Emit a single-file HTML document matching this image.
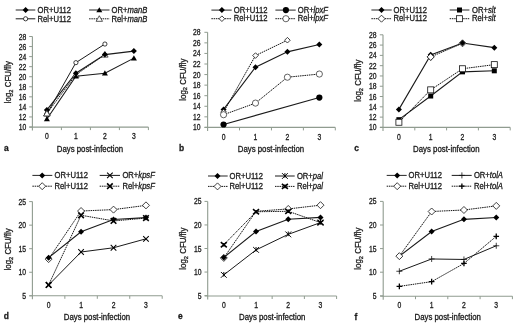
<!DOCTYPE html>
<html><head><meta charset="utf-8"><title>Figure</title>
<style>
html,body{margin:0;padding:0;background:#fff;width:520px;height:325px;overflow:hidden}
svg{display:block;will-change:transform}
text{font-family:"Liberation Sans", sans-serif;fill:#1a1a1a;stroke:#1a1a1a;stroke-width:0.3px}
text.t{stroke-width:0.3px}
</style></head>
<body>
<svg width="520" height="325" viewBox="0 0 520 325">
<rect width="520" height="325" fill="#fff"/>
<path d="M32.4 36.5V130.6M29.4 127.1H148.4" stroke="#909c90" stroke-width="1.1" fill="none"/>
<text transform="translate(26.2 130) scale(0.82 1)" font-size="8.3" text-anchor="end" font-weight="normal" class="t">10</text>
<text transform="translate(26.2 119.94) scale(0.82 1)" font-size="8.3" text-anchor="end" font-weight="normal" class="t">12</text>
<text transform="translate(26.2 109.89) scale(0.82 1)" font-size="8.3" text-anchor="end" font-weight="normal" class="t">14</text>
<text transform="translate(26.2 99.83) scale(0.82 1)" font-size="8.3" text-anchor="end" font-weight="normal" class="t">16</text>
<text transform="translate(26.2 89.78) scale(0.82 1)" font-size="8.3" text-anchor="end" font-weight="normal" class="t">18</text>
<text transform="translate(26.2 79.72) scale(0.82 1)" font-size="8.3" text-anchor="end" font-weight="normal" class="t">20</text>
<text transform="translate(26.2 69.67) scale(0.82 1)" font-size="8.3" text-anchor="end" font-weight="normal" class="t">22</text>
<text transform="translate(26.2 59.61) scale(0.82 1)" font-size="8.3" text-anchor="end" font-weight="normal" class="t">24</text>
<text transform="translate(26.2 49.56) scale(0.82 1)" font-size="8.3" text-anchor="end" font-weight="normal" class="t">26</text>
<text transform="translate(26.2 39.5) scale(0.82 1)" font-size="8.3" text-anchor="end" font-weight="normal" class="t">28</text>
<path d="M29.2 127H32.4M29.2 116.94H32.4M29.2 106.89H32.4M29.2 96.83H32.4M29.2 86.78H32.4M29.2 76.72H32.4M29.2 66.67H32.4M29.2 56.61H32.4M29.2 46.56H32.4M29.2 36.5H32.4M61.4 127.1V130.1M90.4 127.1V130.1M119.4 127.1V130.1M148.4 127.1V130.1" stroke="#909c90" stroke-width="1" fill="none"/>
<text transform="translate(46.9 139.3) scale(0.82 1)" font-size="8.3" text-anchor="middle" font-weight="normal" class="t">0</text>
<text transform="translate(75.9 139.3) scale(0.82 1)" font-size="8.3" text-anchor="middle" font-weight="normal" class="t">1</text>
<text transform="translate(104.9 139.3) scale(0.82 1)" font-size="8.3" text-anchor="middle" font-weight="normal" class="t">2</text>
<text transform="translate(133.9 139.3) scale(0.82 1)" font-size="8.3" text-anchor="middle" font-weight="normal" class="t">3</text>
<text transform="translate(90 152) scale(0.93 1)" font-size="8.4" text-anchor="middle" font-weight="normal" >Days post-infection</text>
<text transform="translate(10.7 82.1) rotate(-90) scale(0.94 1)" font-size="8.4" text-anchor="middle">log<tspan font-size="6" dy="1.8">2</tspan><tspan dy="-1.8"> CFU/fly</tspan></text>
<text transform="translate(4 151.2) scale(0.9 1)" font-size="9.4" text-anchor="start" font-weight="bold" >a</text>
<path d="M46.9 113.93L75.9 62.64L104.9 44.04" fill="none" stroke="#1a1a1a" stroke-width="1.0"/>
<path d="M46.9 113.43L75.9 74.71L104.9 54.6" fill="none" stroke="#151515" stroke-width="1.0" stroke-dasharray="1.5 0.75"/>
<path d="M46.9 118.96L75.9 76.22L104.9 73.2L133.9 58.12" fill="none" stroke="#1a1a1a" stroke-width="1.1"/>
<path d="M46.9 109.91L75.9 73.2L104.9 54.6L133.9 51.08" fill="none" stroke="#1a1a1a" stroke-width="1.1"/>
<circle cx="46.9" cy="113.93" r="2.1" fill="#fff" stroke="#111" stroke-width="0.8"/>
<circle cx="75.9" cy="62.64" r="2.1" fill="#fff" stroke="#111" stroke-width="0.8"/>
<circle cx="104.9" cy="44.04" r="2.1" fill="#fff" stroke="#111" stroke-width="0.8"/>
<path d="M46.9 110.35L50.1 115.95L43.7 115.95Z" fill="#fff" stroke="#111" stroke-width="0.7"/>
<path d="M75.9 71.63L79.1 77.23L72.7 77.23Z" fill="#fff" stroke="#111" stroke-width="0.7"/>
<path d="M104.9 51.52L108.1 57.12L101.7 57.12Z" fill="#fff" stroke="#111" stroke-width="0.7"/>
<path d="M46.9 116.1L49.9 121.3L43.9 121.3Z" fill="#000"/>
<path d="M75.9 73.36L78.9 78.56L72.9 78.56Z" fill="#000"/>
<path d="M104.9 70.34L107.9 75.54L101.9 75.54Z" fill="#000"/>
<path d="M133.9 55.26L136.9 60.46L130.9 60.46Z" fill="#000"/>
<path d="M46.9 106.91L49.9 109.91L46.9 112.91L43.9 109.91Z" fill="#000"/>
<path d="M75.9 70.2L78.9 73.2L75.9 76.2L72.9 73.2Z" fill="#000"/>
<path d="M104.9 51.6L107.9 54.6L104.9 57.6L101.9 54.6Z" fill="#000"/>
<path d="M133.9 48.08L136.9 51.08L133.9 54.08L130.9 51.08Z" fill="#000"/>
<path d="M46.9 110.35L50.1 115.95L43.7 115.95Z" fill="#fff" stroke="#111" stroke-width="0.7"/>
<path d="M15.7 10H35.3" fill="none" stroke="#1a1a1a" stroke-width="0.95"/>
<path d="M25.6 7L28.6 10L25.6 13L22.6 10Z" fill="#000"/>
<text transform="translate(37.5 12.7) scale(0.91 1)" font-size="8.4" text-anchor="start" font-weight="normal" >OR+U112</text>
<path d="M15.7 18.8H35.3" fill="none" stroke="#1a1a1a" stroke-width="1.0"/>
<circle cx="25.6" cy="18.8" r="2.1" fill="#fff" stroke="#111" stroke-width="0.8"/>
<text transform="translate(37.5 21.5) scale(0.91 1)" font-size="8.4" text-anchor="start" font-weight="normal" >Rel+U112</text>
<path d="M89.1 10H109.5" fill="none" stroke="#1a1a1a" stroke-width="0.95"/>
<path d="M99.3 7.14L102.3 12.34L96.3 12.34Z" fill="#000"/>
<text transform="translate(111.6 12.7) scale(0.91 1)" font-size="8.4" text-anchor="start" font-weight="normal" >OR+<tspan font-style="italic">manB</tspan></text>
<path d="M89.1 18.8H109.5" fill="none" stroke="#151515" stroke-width="1.0" stroke-dasharray="1.5 0.75"/>
<path d="M99.3 15.72L102.5 21.32L96.1 21.32Z" fill="#fff" stroke="#111" stroke-width="0.7"/>
<text transform="translate(111.6 21.5) scale(0.91 1)" font-size="8.4" text-anchor="start" font-weight="normal" >Rel+<tspan font-style="italic">manB</tspan></text>
<path d="M207.6 32.3V130.9M204.6 127.4H335.3" stroke="#909c90" stroke-width="1.1" fill="none"/>
<text transform="translate(200.6 130.4) scale(0.82 1)" font-size="8.3" text-anchor="end" font-weight="normal" class="t">10</text>
<text transform="translate(200.6 119.83) scale(0.82 1)" font-size="8.3" text-anchor="end" font-weight="normal" class="t">12</text>
<text transform="translate(200.6 109.27) scale(0.82 1)" font-size="8.3" text-anchor="end" font-weight="normal" class="t">14</text>
<text transform="translate(200.6 98.7) scale(0.82 1)" font-size="8.3" text-anchor="end" font-weight="normal" class="t">16</text>
<text transform="translate(200.6 88.13) scale(0.82 1)" font-size="8.3" text-anchor="end" font-weight="normal" class="t">18</text>
<text transform="translate(200.6 77.57) scale(0.82 1)" font-size="8.3" text-anchor="end" font-weight="normal" class="t">20</text>
<text transform="translate(200.6 67) scale(0.82 1)" font-size="8.3" text-anchor="end" font-weight="normal" class="t">22</text>
<text transform="translate(200.6 56.43) scale(0.82 1)" font-size="8.3" text-anchor="end" font-weight="normal" class="t">24</text>
<text transform="translate(200.6 45.87) scale(0.82 1)" font-size="8.3" text-anchor="end" font-weight="normal" class="t">26</text>
<text transform="translate(200.6 35.3) scale(0.82 1)" font-size="8.3" text-anchor="end" font-weight="normal" class="t">28</text>
<path d="M204.4 127.4H207.6M204.4 116.83H207.6M204.4 106.27H207.6M204.4 95.7H207.6M204.4 85.13H207.6M204.4 74.57H207.6M204.4 64H207.6M204.4 53.43H207.6M204.4 42.87H207.6M204.4 32.3H207.6M239.53 127.4V130.4M271.45 127.4V130.4M303.38 127.4V130.4M335.3 127.4V130.4" stroke="#909c90" stroke-width="1" fill="none"/>
<text transform="translate(223.56 139.6) scale(0.82 1)" font-size="8.3" text-anchor="middle" font-weight="normal" class="t">0</text>
<text transform="translate(255.49 139.6) scale(0.82 1)" font-size="8.3" text-anchor="middle" font-weight="normal" class="t">1</text>
<text transform="translate(287.41 139.6) scale(0.82 1)" font-size="8.3" text-anchor="middle" font-weight="normal" class="t">2</text>
<text transform="translate(319.34 139.6) scale(0.82 1)" font-size="8.3" text-anchor="middle" font-weight="normal" class="t">3</text>
<text transform="translate(271 152) scale(0.93 1)" font-size="8.4" text-anchor="middle" font-weight="normal" >Days post-infection</text>
<text transform="translate(185.6 79.6) rotate(-90) scale(0.94 1)" font-size="8.4" text-anchor="middle">log<tspan font-size="6" dy="1.8">2</tspan><tspan dy="-1.8"> CFU/fly</tspan></text>
<text transform="translate(179 151) scale(0.9 1)" font-size="9.4" text-anchor="start" font-weight="bold" >b</text>
<path d="M223.56 109.44L255.49 67.17L287.41 51.85L319.34 44.45" fill="none" stroke="#1a1a1a" stroke-width="1.1"/>
<path d="M223.56 112.08L255.49 55.55L287.41 40.22" fill="none" stroke="#151515" stroke-width="1.0" stroke-dasharray="1.5 0.75"/>
<path d="M223.56 124.49L319.34 97.55" fill="none" stroke="#1a1a1a" stroke-width="1.1"/>
<path d="M223.56 114.72L255.49 103.1L287.41 77.21L319.34 74.04" fill="none" stroke="#151515" stroke-width="1.0" stroke-dasharray="1.5 0.75"/>
<path d="M223.56 106.44L226.56 109.44L223.56 112.44L220.56 109.44Z" fill="#000"/>
<path d="M255.49 64.17L258.49 67.17L255.49 70.17L252.49 67.17Z" fill="#000"/>
<path d="M287.41 48.85L290.41 51.85L287.41 54.85L284.41 51.85Z" fill="#000"/>
<path d="M319.34 41.45L322.34 44.45L319.34 47.45L316.34 44.45Z" fill="#000"/>
<path d="M223.56 109.28L226.36 112.08L223.56 114.88L220.76 112.08Z" fill="#fff" stroke="#111" stroke-width="0.8"/>
<path d="M255.49 52.75L258.29 55.55L255.49 58.35L252.69 55.55Z" fill="#fff" stroke="#111" stroke-width="0.8"/>
<path d="M287.41 37.42L290.21 40.22L287.41 43.02L284.61 40.22Z" fill="#fff" stroke="#111" stroke-width="0.8"/>
<circle cx="223.56" cy="124.49" r="3.1" fill="#000"/>
<circle cx="319.34" cy="97.55" r="3.1" fill="#000"/>
<circle cx="223.56" cy="114.72" r="3.1" fill="#fff" stroke="#222" stroke-width="0.7"/>
<circle cx="255.49" cy="103.1" r="3.1" fill="#fff" stroke="#222" stroke-width="0.7"/>
<circle cx="287.41" cy="77.21" r="3.1" fill="#fff" stroke="#222" stroke-width="0.7"/>
<circle cx="319.34" cy="74.04" r="3.1" fill="#fff" stroke="#222" stroke-width="0.7"/>
<path d="M211.4 10.1H231.7" fill="none" stroke="#1a1a1a" stroke-width="0.95"/>
<path d="M221.9 7.1L224.9 10.1L221.9 13.1L218.9 10.1Z" fill="#000"/>
<text transform="translate(233.8 12.8) scale(0.91 1)" font-size="8.4" text-anchor="start" font-weight="normal" >OR+U112</text>
<path d="M211.4 18.7H231.7" fill="none" stroke="#151515" stroke-width="1.0" stroke-dasharray="1.5 0.75"/>
<path d="M221.9 15.9L224.7 18.7L221.9 21.5L219.1 18.7Z" fill="#fff" stroke="#111" stroke-width="0.8"/>
<text transform="translate(233.8 21.4) scale(0.91 1)" font-size="8.4" text-anchor="start" font-weight="normal" >Rel+U112</text>
<path d="M275.4 10.1H295.7" fill="none" stroke="#1a1a1a" stroke-width="0.95"/>
<circle cx="285.9" cy="10.1" r="3.1" fill="#000"/>
<text transform="translate(297.7 12.8) scale(0.91 1)" font-size="8.4" text-anchor="start" font-weight="normal" >OR+<tspan font-style="italic">lpxF</tspan></text>
<path d="M275.4 18.7H295.7" fill="none" stroke="#151515" stroke-width="1.0" stroke-dasharray="1.5 0.75"/>
<circle cx="285.9" cy="18.7" r="3.1" fill="#fff" stroke="#222" stroke-width="0.7"/>
<text transform="translate(297.7 21.4) scale(0.91 1)" font-size="8.4" text-anchor="start" font-weight="normal" >Rel+<tspan font-style="italic">lpxF</tspan></text>
<path d="M383 34.8V130.9M380 127.4H510.2" stroke="#909c90" stroke-width="1.1" fill="none"/>
<text transform="translate(376.6 130.4) scale(0.82 1)" font-size="8.3" text-anchor="end" font-weight="normal" class="t">10</text>
<text transform="translate(376.6 120.11) scale(0.82 1)" font-size="8.3" text-anchor="end" font-weight="normal" class="t">12</text>
<text transform="translate(376.6 109.82) scale(0.82 1)" font-size="8.3" text-anchor="end" font-weight="normal" class="t">14</text>
<text transform="translate(376.6 99.53) scale(0.82 1)" font-size="8.3" text-anchor="end" font-weight="normal" class="t">16</text>
<text transform="translate(376.6 89.24) scale(0.82 1)" font-size="8.3" text-anchor="end" font-weight="normal" class="t">18</text>
<text transform="translate(376.6 78.96) scale(0.82 1)" font-size="8.3" text-anchor="end" font-weight="normal" class="t">20</text>
<text transform="translate(376.6 68.67) scale(0.82 1)" font-size="8.3" text-anchor="end" font-weight="normal" class="t">22</text>
<text transform="translate(376.6 58.38) scale(0.82 1)" font-size="8.3" text-anchor="end" font-weight="normal" class="t">24</text>
<text transform="translate(376.6 48.09) scale(0.82 1)" font-size="8.3" text-anchor="end" font-weight="normal" class="t">26</text>
<text transform="translate(376.6 37.8) scale(0.82 1)" font-size="8.3" text-anchor="end" font-weight="normal" class="t">28</text>
<path d="M379.8 127.4H383M379.8 117.11H383M379.8 106.82H383M379.8 96.53H383M379.8 86.24H383M379.8 75.96H383M379.8 65.67H383M379.8 55.38H383M379.8 45.09H383M379.8 34.8H383M414.8 127.4V130.4M446.6 127.4V130.4M478.4 127.4V130.4M510.2 127.4V130.4" stroke="#909c90" stroke-width="1" fill="none"/>
<text transform="translate(398.9 139.6) scale(0.82 1)" font-size="8.3" text-anchor="middle" font-weight="normal" class="t">0</text>
<text transform="translate(430.7 139.6) scale(0.82 1)" font-size="8.3" text-anchor="middle" font-weight="normal" class="t">1</text>
<text transform="translate(462.5 139.6) scale(0.82 1)" font-size="8.3" text-anchor="middle" font-weight="normal" class="t">2</text>
<text transform="translate(494.3 139.6) scale(0.82 1)" font-size="8.3" text-anchor="middle" font-weight="normal" class="t">3</text>
<text transform="translate(446.3 152) scale(0.93 1)" font-size="8.4" text-anchor="middle" font-weight="normal" >Days post-infection</text>
<text transform="translate(361.1 80.6) rotate(-90) scale(0.94 1)" font-size="8.4" text-anchor="middle">log<tspan font-size="6" dy="1.8">2</tspan><tspan dy="-1.8"> CFU/fly</tspan></text>
<text transform="translate(354.2 151.2) scale(0.9 1)" font-size="9.4" text-anchor="start" font-weight="bold" >c</text>
<path d="M430.7 56.92L462.5 43.29" fill="none" stroke="#151515" stroke-width="1.0" stroke-dasharray="1.5 0.75"/>
<path d="M398.9 109.39L430.7 54.86L462.5 43.03L494.3 47.66" fill="none" stroke="#1a1a1a" stroke-width="1.1"/>
<path d="M398.9 119.68L430.7 96.02L462.5 71.84L494.3 70.81" fill="none" stroke="#1a1a1a" stroke-width="1.1"/>
<path d="M398.9 122.26L430.7 89.85L462.5 68.75L494.3 64.64" fill="none" stroke="#151515" stroke-width="1.0" stroke-dasharray="1.5 0.75"/>
<path d="M430.7 53.42L434.2 56.92L430.7 60.42L427.2 56.92Z" fill="#fff" stroke="#111" stroke-width="0.8"/>
<path d="M462.5 39.79L466 43.29L462.5 46.79L459 43.29Z" fill="#fff" stroke="#111" stroke-width="0.8"/>
<path d="M398.9 106.39L401.9 109.39L398.9 112.39L395.9 109.39Z" fill="#000"/>
<path d="M430.7 51.86L433.7 54.86L430.7 57.86L427.7 54.86Z" fill="#000"/>
<path d="M462.5 40.03L465.5 43.03L462.5 46.03L459.5 43.03Z" fill="#000"/>
<path d="M494.3 44.66L497.3 47.66L494.3 50.66L491.3 47.66Z" fill="#000"/>
<rect x="396.4" y="117.18" width="5" height="5" fill="#000"/>
<rect x="428.2" y="93.52" width="5" height="5" fill="#000"/>
<rect x="460" y="69.34" width="5" height="5" fill="#000"/>
<rect x="491.8" y="68.31" width="5" height="5" fill="#000"/>
<rect x="395.9" y="119.26" width="6" height="6" fill="#fff" stroke="#111" stroke-width="0.8"/>
<rect x="427.7" y="86.85" width="6" height="6" fill="#fff" stroke="#111" stroke-width="0.8"/>
<rect x="459.5" y="65.75" width="6" height="6" fill="#fff" stroke="#111" stroke-width="0.8"/>
<rect x="491.3" y="61.64" width="6" height="6" fill="#fff" stroke="#111" stroke-width="0.8"/>
<path d="M430.7 53.42L434.2 56.92L430.7 60.42L427.2 56.92Z" fill="#fff" stroke="#111" stroke-width="0.8"/>
<path d="M371.4 10H391.7" fill="none" stroke="#1a1a1a" stroke-width="0.95"/>
<path d="M381.5 7L384.5 10L381.5 13L378.5 10Z" fill="#000"/>
<text transform="translate(393.5 12.7) scale(0.91 1)" font-size="8.4" text-anchor="start" font-weight="normal" >OR+U112</text>
<path d="M371.4 18.7H391.7" fill="none" stroke="#151515" stroke-width="1.0" stroke-dasharray="1.5 0.75"/>
<path d="M381.5 15.2L385 18.7L381.5 22.2L378 18.7Z" fill="#fff" stroke="#111" stroke-width="0.8"/>
<text transform="translate(393.5 21.4) scale(0.91 1)" font-size="8.4" text-anchor="start" font-weight="normal" >Rel+U112</text>
<path d="M449.7 10H469.4" fill="none" stroke="#1a1a1a" stroke-width="0.95"/>
<rect x="457" y="7.5" width="5" height="5" fill="#000"/>
<text transform="translate(472 12.7) scale(0.91 1)" font-size="8.4" text-anchor="start" font-weight="normal" >OR+<tspan font-style="italic">slt</tspan></text>
<path d="M449.7 18.7H469.4" fill="none" stroke="#151515" stroke-width="1.0" stroke-dasharray="1.5 0.75"/>
<rect x="456.5" y="15.7" width="6" height="6" fill="#fff" stroke="#111" stroke-width="0.8"/>
<text transform="translate(472 21.4) scale(0.91 1)" font-size="8.4" text-anchor="start" font-weight="normal" >Rel+<tspan font-style="italic">slt</tspan></text>
<path d="M32.4 201.6V299.3M29.4 295.8H162.2" stroke="#909c90" stroke-width="1.1" fill="none"/>
<text transform="translate(26 298.8) scale(0.82 1)" font-size="8.3" text-anchor="end" font-weight="normal" class="t">5</text>
<text transform="translate(26 275.25) scale(0.82 1)" font-size="8.3" text-anchor="end" font-weight="normal" class="t">10</text>
<text transform="translate(26 251.7) scale(0.82 1)" font-size="8.3" text-anchor="end" font-weight="normal" class="t">15</text>
<text transform="translate(26 228.15) scale(0.82 1)" font-size="8.3" text-anchor="end" font-weight="normal" class="t">20</text>
<text transform="translate(26 204.6) scale(0.82 1)" font-size="8.3" text-anchor="end" font-weight="normal" class="t">25</text>
<path d="M29.2 295.8H32.4M29.2 272.25H32.4M29.2 248.7H32.4M29.2 225.15H32.4M29.2 201.6H32.4M64.85 295.8V298.8M97.3 295.8V298.8M129.75 295.8V298.8M162.2 295.8V298.8" stroke="#909c90" stroke-width="1" fill="none"/>
<text transform="translate(48.62 308) scale(0.82 1)" font-size="8.3" text-anchor="middle" font-weight="normal" class="t">0</text>
<text transform="translate(81.07 308) scale(0.82 1)" font-size="8.3" text-anchor="middle" font-weight="normal" class="t">1</text>
<text transform="translate(113.52 308) scale(0.82 1)" font-size="8.3" text-anchor="middle" font-weight="normal" class="t">2</text>
<text transform="translate(145.97 308) scale(0.82 1)" font-size="8.3" text-anchor="middle" font-weight="normal" class="t">3</text>
<text transform="translate(97 320.2) scale(0.93 1)" font-size="8.4" text-anchor="middle" font-weight="normal" >Days post-infection</text>
<text transform="translate(10.7 249.4) rotate(-90) scale(0.94 1)" font-size="8.4" text-anchor="middle">log<tspan font-size="6" dy="1.8">2</tspan><tspan dy="-1.8"> CFU/fly</tspan></text>
<text transform="translate(3.8 319.3) scale(0.9 1)" font-size="9.4" text-anchor="start" font-weight="bold" >d</text>
<path d="M48.62 259.06L81.07 211.02L113.52 209.61L145.97 205.37" fill="none" stroke="#151515" stroke-width="1.0" stroke-dasharray="1.5 0.75"/>
<path d="M48.62 257.65L81.07 231.74L113.52 219.5L145.97 217.61" fill="none" stroke="#1a1a1a" stroke-width="1.1"/>
<path d="M48.62 284.97L81.07 252L113.52 247.76L145.97 238.81" fill="none" stroke="#1a1a1a" stroke-width="1.0"/>
<path d="M48.62 284.97L81.07 215.26L113.52 220.91L145.97 218.09" fill="none" stroke="#151515" stroke-width="1.0" stroke-dasharray="1.5 0.75"/>
<path d="M48.62 255.56L52.12 259.06L48.62 262.56L45.12 259.06Z" fill="#fff" stroke="#111" stroke-width="0.8"/>
<path d="M81.07 207.52L84.57 211.02L81.07 214.52L77.57 211.02Z" fill="#fff" stroke="#111" stroke-width="0.8"/>
<path d="M113.52 206.11L117.02 209.61L113.52 213.11L110.02 209.61Z" fill="#fff" stroke="#111" stroke-width="0.8"/>
<path d="M145.97 201.87L149.47 205.37L145.97 208.87L142.47 205.37Z" fill="#fff" stroke="#111" stroke-width="0.8"/>
<path d="M48.62 254.65L51.62 257.65L48.62 260.65L45.62 257.65Z" fill="#000"/>
<path d="M81.07 228.74L84.07 231.74L81.07 234.74L78.07 231.74Z" fill="#000"/>
<path d="M113.52 216.5L116.52 219.5L113.52 222.5L110.52 219.5Z" fill="#000"/>
<path d="M145.97 214.61L148.97 217.61L145.97 220.61L142.97 217.61Z" fill="#000"/>
<path d="M45.83 282.17L51.42 287.77M51.42 282.17L45.83 287.77" stroke="#000" stroke-width="1.05" fill="none"/>
<path d="M78.27 249.2L83.87 254.8M83.87 249.2L78.27 254.8" stroke="#000" stroke-width="1.05" fill="none"/>
<path d="M110.72 244.96L116.32 250.56M116.32 244.96L110.72 250.56" stroke="#000" stroke-width="1.05" fill="none"/>
<path d="M143.17 236.01L148.78 241.61M148.78 236.01L143.17 241.61" stroke="#000" stroke-width="1.05" fill="none"/>
<path d="M45.83 282.17L51.42 287.77M51.42 282.17L45.83 287.77" stroke="#000" stroke-width="1.6" fill="none"/>
<path d="M78.27 212.46L83.87 218.06M83.87 212.46L78.27 218.06" stroke="#000" stroke-width="1.6" fill="none"/>
<path d="M110.72 218.11L116.32 223.71M116.32 218.11L110.72 223.71" stroke="#000" stroke-width="1.6" fill="none"/>
<path d="M143.17 215.28L148.78 220.89M148.78 215.28L143.17 220.89" stroke="#000" stroke-width="1.6" fill="none"/>
<path d="M32.4 175.4H52.3" fill="none" stroke="#1a1a1a" stroke-width="0.95"/>
<path d="M42.2 172.4L45.2 175.4L42.2 178.4L39.2 175.4Z" fill="#000"/>
<text transform="translate(54.5 178.1) scale(0.91 1)" font-size="8.4" text-anchor="start" font-weight="normal" >OR+U112</text>
<path d="M32.4 186.2H52.3" fill="none" stroke="#151515" stroke-width="1.0" stroke-dasharray="1.5 0.75"/>
<path d="M42.2 182.7L45.7 186.2L42.2 189.7L38.7 186.2Z" fill="#fff" stroke="#111" stroke-width="0.8"/>
<text transform="translate(54.5 188.9) scale(0.91 1)" font-size="8.4" text-anchor="start" font-weight="normal" >Rel+U112</text>
<path d="M99.7 175.4H120" fill="none" stroke="#1a1a1a" stroke-width="1.0"/>
<path d="M107.1 172.6L112.7 178.2M112.7 172.6L107.1 178.2" stroke="#000" stroke-width="1.05" fill="none"/>
<text transform="translate(122.4 178.1) scale(0.91 1)" font-size="8.4" text-anchor="start" font-weight="normal" >OR+<tspan font-style="italic">kpsF</tspan></text>
<path d="M99.7 186.2H120" fill="none" stroke="#151515" stroke-width="1.0" stroke-dasharray="1.5 0.75"/>
<path d="M107.1 183.4L112.7 189M112.7 183.4L107.1 189" stroke="#000" stroke-width="1.6" fill="none"/>
<text transform="translate(122.4 188.9) scale(0.91 1)" font-size="8.4" text-anchor="start" font-weight="normal" >Rel+<tspan font-style="italic">kpsF</tspan></text>
<path d="M207.7 201.4V299.5M204.7 296H336.6" stroke="#909c90" stroke-width="1.1" fill="none"/>
<text transform="translate(201.6 298.6) scale(0.82 1)" font-size="8.3" text-anchor="end" font-weight="normal" class="t">5</text>
<text transform="translate(201.6 275.05) scale(0.82 1)" font-size="8.3" text-anchor="end" font-weight="normal" class="t">10</text>
<text transform="translate(201.6 251.5) scale(0.82 1)" font-size="8.3" text-anchor="end" font-weight="normal" class="t">15</text>
<text transform="translate(201.6 227.95) scale(0.82 1)" font-size="8.3" text-anchor="end" font-weight="normal" class="t">20</text>
<text transform="translate(201.6 204.4) scale(0.82 1)" font-size="8.3" text-anchor="end" font-weight="normal" class="t">25</text>
<path d="M204.5 295.6H207.7M204.5 272.05H207.7M204.5 248.5H207.7M204.5 224.95H207.7M204.5 201.4H207.7M239.93 296V299M272.15 296V299M304.38 296V299M336.6 296V299" stroke="#909c90" stroke-width="1" fill="none"/>
<text transform="translate(223.81 307.6) scale(0.82 1)" font-size="8.3" text-anchor="middle" font-weight="normal" class="t">0</text>
<text transform="translate(256.04 307.6) scale(0.82 1)" font-size="8.3" text-anchor="middle" font-weight="normal" class="t">1</text>
<text transform="translate(288.26 307.6) scale(0.82 1)" font-size="8.3" text-anchor="middle" font-weight="normal" class="t">2</text>
<text transform="translate(320.49 307.6) scale(0.82 1)" font-size="8.3" text-anchor="middle" font-weight="normal" class="t">3</text>
<text transform="translate(272.2 319.8) scale(0.93 1)" font-size="8.4" text-anchor="middle" font-weight="normal" >Days post-infection</text>
<text transform="translate(185.7 248.6) rotate(-90) scale(0.94 1)" font-size="8.4" text-anchor="middle">log<tspan font-size="6" dy="1.8">2</tspan><tspan dy="-1.8"> CFU/fly</tspan></text>
<text transform="translate(178 319.3) scale(0.9 1)" font-size="9.4" text-anchor="start" font-weight="bold" >e</text>
<path d="M223.81 257.92L256.04 211.29L288.26 208.94L320.49 205.17" fill="none" stroke="#151515" stroke-width="1.0" stroke-dasharray="1.5 0.75"/>
<path d="M223.81 257.45L256.04 231.54L288.26 219.3L320.49 217.41" fill="none" stroke="#1a1a1a" stroke-width="1.1"/>
<path d="M223.81 274.88L256.04 249.91L288.26 234.37L320.49 222.59" fill="none" stroke="#1a1a1a" stroke-width="1.0"/>
<path d="M223.81 244.73L256.04 211.76L288.26 211.29L320.49 222.59" fill="none" stroke="#151515" stroke-width="1.0" stroke-dasharray="1.5 0.75"/>
<path d="M223.81 254.42L227.31 257.92L223.81 261.42L220.31 257.92Z" fill="#fff" stroke="#111" stroke-width="0.8"/>
<path d="M288.26 205.44L291.76 208.94L288.26 212.44L284.76 208.94Z" fill="#fff" stroke="#111" stroke-width="0.8"/>
<path d="M320.49 201.67L323.99 205.17L320.49 208.67L316.99 205.17Z" fill="#fff" stroke="#111" stroke-width="0.8"/>
<path d="M223.81 254.45L226.81 257.45L223.81 260.45L220.81 257.45Z" fill="#000"/>
<path d="M256.04 228.54L259.04 231.54L256.04 234.54L253.04 231.54Z" fill="#000"/>
<path d="M288.26 216.3L291.26 219.3L288.26 222.3L285.26 219.3Z" fill="#000"/>
<path d="M320.49 214.41L323.49 217.41L320.49 220.41L317.49 217.41Z" fill="#000"/>
<path d="M220.91 271.98L226.71 277.78M226.71 271.98L220.91 277.78M223.81 271.98L223.81 276.62" stroke="#000" stroke-width="0.95" fill="none"/>
<path d="M253.14 247.01L258.94 252.81M258.94 247.01L253.14 252.81M256.04 247.01L256.04 251.65" stroke="#000" stroke-width="0.95" fill="none"/>
<path d="M285.36 231.47L291.16 237.27M291.16 231.47L285.36 237.27M288.26 231.47L288.26 236.11" stroke="#000" stroke-width="0.95" fill="none"/>
<path d="M317.59 219.69L323.39 225.5M323.39 219.69L317.59 225.5M320.49 219.69L320.49 224.34" stroke="#000" stroke-width="0.95" fill="none"/>
<path d="M220.81 242.18L226.81 247.28M226.81 242.18L220.81 247.28" stroke="#000" stroke-width="1.6" fill="none"/><path d="M223.81 242.93V246.53" stroke="#000" stroke-width="1.4"/>
<path d="M253.04 209.21L259.04 214.31M259.04 209.21L253.04 214.31" stroke="#000" stroke-width="1.6" fill="none"/><path d="M256.04 209.96V213.56" stroke="#000" stroke-width="1.4"/>
<path d="M285.26 208.74L291.26 213.84M291.26 208.74L285.26 213.84" stroke="#000" stroke-width="1.6" fill="none"/><path d="M288.26 209.49V213.09" stroke="#000" stroke-width="1.4"/>
<path d="M317.49 220.04L323.49 225.15M323.49 220.04L317.49 225.15" stroke="#000" stroke-width="1.6" fill="none"/><path d="M320.49 220.79V224.4" stroke="#000" stroke-width="1.4"/>
<path d="M208 176H227.7" fill="none" stroke="#1a1a1a" stroke-width="0.95"/>
<path d="M217.5 173L220.5 176L217.5 179L214.5 176Z" fill="#000"/>
<text transform="translate(229.5 178.7) scale(0.91 1)" font-size="8.4" text-anchor="start" font-weight="normal" >OR+U112</text>
<path d="M208 186.4H227.7" fill="none" stroke="#151515" stroke-width="1.0" stroke-dasharray="1.5 0.75"/>
<path d="M217.5 182.9L221 186.4L217.5 189.9L214 186.4Z" fill="#fff" stroke="#111" stroke-width="0.8"/>
<text transform="translate(229.5 189.1) scale(0.91 1)" font-size="8.4" text-anchor="start" font-weight="normal" >Rel+U112</text>
<path d="M275 176H294.7" fill="none" stroke="#1a1a1a" stroke-width="1.0"/>
<path d="M282 173.1L287.8 178.9M287.8 173.1L282 178.9M284.9 173.1L284.9 177.74" stroke="#000" stroke-width="0.95" fill="none"/>
<text transform="translate(296.9 178.7) scale(0.91 1)" font-size="8.4" text-anchor="start" font-weight="normal" >OR+<tspan font-style="italic">pal</tspan></text>
<path d="M275 186.4H294.7" fill="none" stroke="#151515" stroke-width="1.0" stroke-dasharray="1.5 0.75"/>
<path d="M281.9 183.85L287.9 188.95M287.9 183.85L281.9 188.95" stroke="#000" stroke-width="1.6" fill="none"/><path d="M284.9 184.6V188.2" stroke="#000" stroke-width="1.4"/>
<text transform="translate(296.9 189.1) scale(0.91 1)" font-size="8.4" text-anchor="start" font-weight="normal" >Rel+<tspan font-style="italic">pal</tspan></text>
<path d="M383.2 201.4V299.7M380.2 296.2H512.4" stroke="#909c90" stroke-width="1.1" fill="none"/>
<text transform="translate(376.6 298.8) scale(0.82 1)" font-size="8.3" text-anchor="end" font-weight="normal" class="t">5</text>
<text transform="translate(376.6 275.2) scale(0.82 1)" font-size="8.3" text-anchor="end" font-weight="normal" class="t">10</text>
<text transform="translate(376.6 251.6) scale(0.82 1)" font-size="8.3" text-anchor="end" font-weight="normal" class="t">15</text>
<text transform="translate(376.6 228) scale(0.82 1)" font-size="8.3" text-anchor="end" font-weight="normal" class="t">20</text>
<text transform="translate(376.6 204.4) scale(0.82 1)" font-size="8.3" text-anchor="end" font-weight="normal" class="t">25</text>
<path d="M380 295.8H383.2M380 272.2H383.2M380 248.6H383.2M380 225H383.2M380 201.4H383.2M415.5 296.2V299.2M447.8 296.2V299.2M480.1 296.2V299.2M512.4 296.2V299.2" stroke="#909c90" stroke-width="1" fill="none"/>
<text transform="translate(399.35 307.8) scale(0.82 1)" font-size="8.3" text-anchor="middle" font-weight="normal" class="t">0</text>
<text transform="translate(431.65 307.8) scale(0.82 1)" font-size="8.3" text-anchor="middle" font-weight="normal" class="t">1</text>
<text transform="translate(463.95 307.8) scale(0.82 1)" font-size="8.3" text-anchor="middle" font-weight="normal" class="t">2</text>
<text transform="translate(496.25 307.8) scale(0.82 1)" font-size="8.3" text-anchor="middle" font-weight="normal" class="t">3</text>
<text transform="translate(447.7 320) scale(0.93 1)" font-size="8.4" text-anchor="middle" font-weight="normal" >Days post-infection</text>
<text transform="translate(361.3 248.6) rotate(-90) scale(0.94 1)" font-size="8.4" text-anchor="middle">log<tspan font-size="6" dy="1.8">2</tspan><tspan dy="-1.8"> CFU/fly</tspan></text>
<text transform="translate(354.6 319.6) scale(0.9 1)" font-size="9.4" text-anchor="start" font-weight="bold" >f</text>
<path d="M399.35 256.15L431.65 231.61L463.95 219.34L496.25 217.45" fill="none" stroke="#1a1a1a" stroke-width="1.1"/>
<path d="M399.35 256.15L431.65 211.5L463.95 209.99L496.25 205.88" fill="none" stroke="#151515" stroke-width="1.0" stroke-dasharray="1.5 0.75"/>
<path d="M399.35 271.26L431.65 258.98L463.95 259.46L496.25 245.77" fill="none" stroke="#1a1a1a" stroke-width="1.0"/>
<path d="M399.35 286.36L431.65 281.64L463.95 263.47L496.25 236.33" fill="none" stroke="#151515" stroke-width="1.0" stroke-dasharray="1.5 0.75"/>
<path d="M399.35 253.15L402.35 256.15L399.35 259.15L396.35 256.15Z" fill="#000"/>
<path d="M431.65 228.61L434.65 231.61L431.65 234.61L428.65 231.61Z" fill="#000"/>
<path d="M463.95 216.34L466.95 219.34L463.95 222.34L460.95 219.34Z" fill="#000"/>
<path d="M496.25 214.45L499.25 217.45L496.25 220.45L493.25 217.45Z" fill="#000"/>
<path d="M399.35 252.65L402.85 256.15L399.35 259.65L395.85 256.15Z" fill="#fff" stroke="#111" stroke-width="0.8"/>
<path d="M431.65 208L435.15 211.5L431.65 215L428.15 211.5Z" fill="#fff" stroke="#111" stroke-width="0.8"/>
<path d="M463.95 206.49L467.45 209.99L463.95 213.49L460.45 209.99Z" fill="#fff" stroke="#111" stroke-width="0.8"/>
<path d="M496.25 202.38L499.75 205.88L496.25 209.38L492.75 205.88Z" fill="#fff" stroke="#111" stroke-width="0.8"/>
<path d="M396.35 271.26L402.35 271.26M399.35 268.26L399.35 274.26" stroke="#111" stroke-width="0.8" fill="none"/>
<path d="M428.65 258.98L434.65 258.98M431.65 255.98L431.65 261.98" stroke="#111" stroke-width="0.8" fill="none"/>
<path d="M460.95 259.46L466.95 259.46M463.95 256.46L463.95 262.46" stroke="#111" stroke-width="0.8" fill="none"/>
<path d="M493.25 245.77L499.25 245.77M496.25 242.77L496.25 248.77" stroke="#111" stroke-width="0.8" fill="none"/>
<path d="M396.55 286.36L402.15 286.36M399.35 283.56L399.35 289.16" stroke="#000" stroke-width="1.3" fill="none"/>
<path d="M428.85 281.64L434.45 281.64M431.65 278.84L431.65 284.44" stroke="#000" stroke-width="1.3" fill="none"/>
<path d="M461.15 263.47L466.75 263.47M463.95 260.67L463.95 266.27" stroke="#000" stroke-width="1.3" fill="none"/>
<path d="M493.45 236.33L499.05 236.33M496.25 233.53L496.25 239.13" stroke="#000" stroke-width="1.3" fill="none"/>
<path d="M386.7 175.4H406.7" fill="none" stroke="#1a1a1a" stroke-width="0.95"/>
<path d="M397.2 172.4L400.2 175.4L397.2 178.4L394.2 175.4Z" fill="#000"/>
<text transform="translate(408.5 178.1) scale(0.91 1)" font-size="8.4" text-anchor="start" font-weight="normal" >OR+U112</text>
<path d="M386.7 186.2H406.7" fill="none" stroke="#151515" stroke-width="1.0" stroke-dasharray="1.5 0.75"/>
<path d="M397.2 182.7L400.7 186.2L397.2 189.7L393.7 186.2Z" fill="#fff" stroke="#111" stroke-width="0.8"/>
<text transform="translate(408.5 188.9) scale(0.91 1)" font-size="8.4" text-anchor="start" font-weight="normal" >Rel+U112</text>
<path d="M451.7 175.4H471.7" fill="none" stroke="#1a1a1a" stroke-width="1.0"/>
<path d="M458.9 175.4L464.9 175.4M461.9 172.4L461.9 178.4" stroke="#111" stroke-width="0.8" fill="none"/>
<text transform="translate(473.9 178.1) scale(0.91 1)" font-size="8.4" text-anchor="start" font-weight="normal" >OR+<tspan font-style="italic">tolA</tspan></text>
<path d="M451.7 186.2H471.7" fill="none" stroke="#151515" stroke-width="1.0" stroke-dasharray="1.5 0.75"/>
<path d="M459.1 186.2L464.7 186.2M461.9 183.4L461.9 189" stroke="#000" stroke-width="1.3" fill="none"/>
<text transform="translate(473.9 188.9) scale(0.91 1)" font-size="8.4" text-anchor="start" font-weight="normal" >Rel+<tspan font-style="italic">tolA</tspan></text>
</svg>
</body></html>
